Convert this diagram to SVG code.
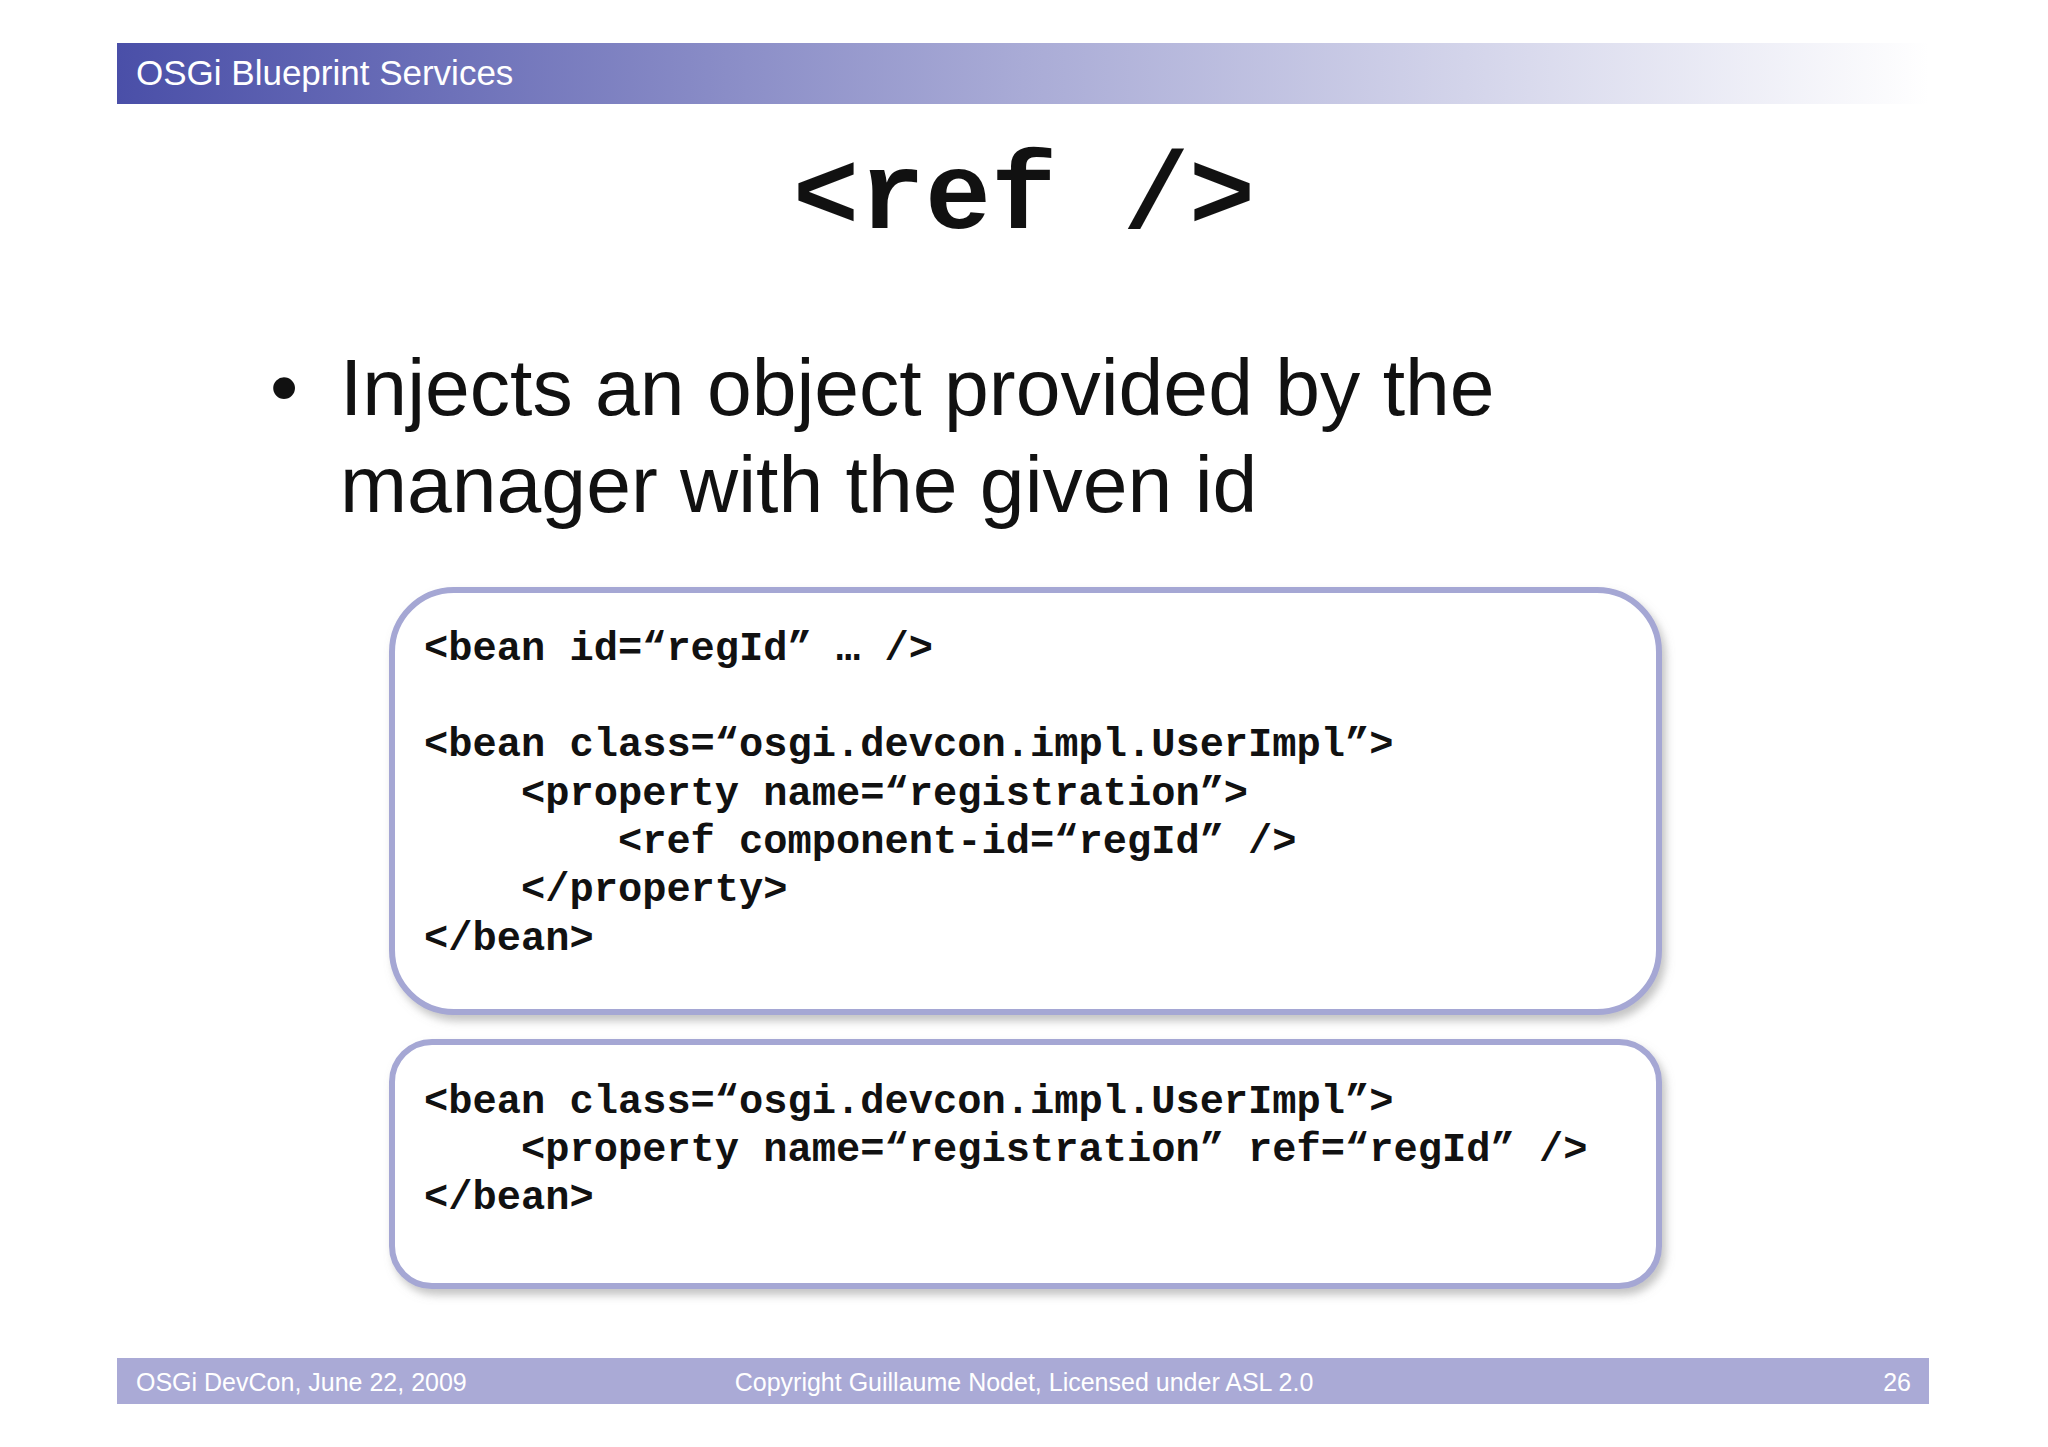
<svg xmlns="http://www.w3.org/2000/svg" width="2048" height="1447" viewBox="0 0 2048 1447">
<defs>
<linearGradient id="hg" x1="0" x2="1" y1="0" y2="0">
<stop offset="0" stop-color="#4a4fa8"/><stop offset="0.5" stop-color="#a9abd6"/><stop offset="1" stop-color="#ffffff"/>
</linearGradient>
<filter id="sh" x="-5%" y="-5%" width="110%" height="115%"><feDropShadow dx="4" dy="6" stdDeviation="4" flood-color="#888" flood-opacity="0.5"/></filter>
<style>
.code{font-family:"Liberation Mono",monospace;font-weight:bold;font-size:40.4px;fill:#111;white-space:pre}
.box{fill:#fff;stroke:#a5a7d4;stroke-width:6}
.foot{font-family:"Liberation Sans",Arial,sans-serif;font-size:25px;fill:#fff}
</style>
</defs>
<rect width="2048" height="1447" fill="#fff"/>
<g id="header"><rect x="117" y="43" width="1812" height="61" fill="url(#hg)"/>
<text x="136" y="85" font-family="Liberation Sans,Arial,sans-serif" font-size="35" fill="#fff">OSGi Blueprint Services</text></g>
<g id="title"><text x="1024" y="228" text-anchor="middle" font-family="Liberation Mono,monospace" font-weight="bold" font-size="110" fill="#111">&lt;ref /&gt;</text></g>
<g id="bullet" font-family="Liberation Sans,Arial,sans-serif" font-size="80.5" fill="#111">
<text x="270" y="415">•</text>
<text x="340" y="415">Injects an object provided by the</text>
<text x="340" y="512">manager with the given id</text></g>
<g id="box1"><rect class="box" x="392" y="590" width="1267" height="422" rx="62" filter="url(#sh)"/>
<text class="code" x="424" y="660">&lt;bean id=“regId” … /&gt;</text>
<text class="code" x="424" y="756">&lt;bean class=“osgi.devcon.impl.UserImpl”&gt;</text>
<text class="code" x="424" y="805">    &lt;property name=“registration”&gt;</text>
<text class="code" x="424" y="853">        &lt;ref component-id=“regId” /&gt;</text>
<text class="code" x="424" y="901">    &lt;/property&gt;</text>
<text class="code" x="424" y="950">&lt;/bean&gt;</text></g>
<g id="box2"><rect class="box" x="392" y="1042" width="1267" height="244" rx="40" filter="url(#sh)"/>
<text class="code" x="424" y="1113">&lt;bean class=“osgi.devcon.impl.UserImpl”&gt;</text>
<text class="code" x="424" y="1161">    &lt;property name=“registration” ref=“regId” /&gt;</text>
<text class="code" x="424" y="1209">&lt;/bean&gt;</text></g>
<g id="footer"><rect x="117" y="1358" width="1812" height="46" fill="#aaaad6"/>
<text class="foot" x="136" y="1391">OSGi DevCon, June 22, 2009</text>
<text class="foot" x="1024" y="1391" text-anchor="middle">Copyright Guillaume Nodet, Licensed under ASL 2.0</text>
<text class="foot" x="1911" y="1391" text-anchor="end">26</text></g>
<g id="connectors"/>
</svg>
